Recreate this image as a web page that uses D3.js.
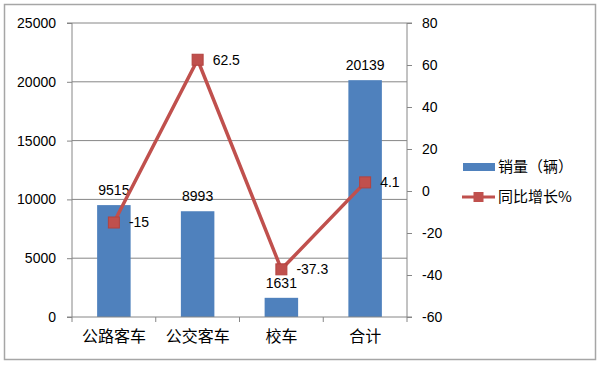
<!DOCTYPE html>
<html>
<head>
<meta charset="utf-8">
<script src="https://cdn.jsdelivr.net/npm/d3@7"></script>
<style>
  body { margin: 0; background: #fff; }
  text { font-family: "Liberation Sans", "Noto Sans CJK SC", sans-serif; fill: #000; }
  .cjk { font-family: "Noto Sans CJK SC", sans-serif; }
</style>
</head>
<body>
<div id="chart"></div>
<script>
// data
const categories = ["公路客车", "公交客车", "校车", "合计"];
const sales = [9515, 8993, 1631, 20139];
const growth = [-15, 62.5, -37.3, 4.1];
const leftTicks = [0, 5000, 10000, 15000, 20000, 25000];
const rightTicks = [-60, -40, -20, 0, 20, 40, 60, 80];
const seriesNames = ["销量（辆）", "同比增长%"];

const color = { bar: "#4f81bd", line: "#c0504d", axis: "#868686", grid: "#868686", frame: "#a6a6a6" };

const W = 600, H = 366;
const plot = { left: 72, right: 407, top: 23, bottom: 317 };

const svg = d3.select("#chart").append("svg")
  .attr("width", W).attr("height", H);

// outer frame
svg.append("rect")
  .attr("x", 4.5).attr("y", 4.5)
  .attr("width", 591).attr("height", 355)
  .attr("fill", "#fff")
  .attr("stroke", color.frame)
  .attr("stroke-width", 1.5);

// scales
const x = d3.scaleBand()
  .domain(categories)
  .range([plot.left, plot.right])
  .paddingInner(0.6)
  .paddingOuter(0.3);
const xCat = d3.scaleBand().domain(categories).range([plot.left, plot.right]);
const yL = d3.scaleLinear().domain([0, 25000]).range([plot.bottom, plot.top]);
const yR = d3.scaleLinear().domain([-60, 80]).range([plot.bottom, plot.top]);

// gridlines
svg.append("g")
  .selectAll("line")
  .data(leftTicks.filter(d => d > 0))
  .join("line")
  .attr("x1", plot.left).attr("x2", plot.right)
  .attr("y1", d => yL(d)).attr("y2", d => yL(d))
  .attr("stroke", color.grid)
  .attr("stroke-width", 1);

// bars
svg.append("g")
  .selectAll("rect")
  .data(sales)
  .join("rect")
  .attr("x", (d, i) => x(categories[i]))
  .attr("y", d => yL(d))
  .attr("width", x.bandwidth())
  .attr("height", d => yL(0) - yL(d))
  .attr("fill", color.bar);

// left axis
const leftAxis = svg.append("g")
  .attr("transform", `translate(${plot.left},0)`)
  .call(d3.axisLeft(yL).tickValues(leftTicks).tickSize(5).tickPadding(11).tickFormat(d => d));
// right axis
const rightAxis = svg.append("g")
  .attr("transform", `translate(${plot.right},0)`)
  .call(d3.axisRight(yR).tickValues(rightTicks).tickSize(5).tickPadding(10).tickFormat(d => d));
// bottom axis
const bottomAxis = svg.append("g")
  .attr("transform", `translate(0,${plot.bottom})`)
  .call(d3.axisBottom(xCat).tickSize(0).tickPadding(14));
bottomAxis.selectAll(".tick text").attr("class", "cjk").attr("font-size", 16);
// category boundary ticks
bottomAxis.append("g")
  .selectAll("line")
  .data(d3.range(categories.length + 1))
  .join("line")
  .attr("x1", i => plot.left + i * xCat.step())
  .attr("x2", i => plot.left + i * xCat.step())
  .attr("y1", 0).attr("y2", 5)
  .attr("stroke", color.axis);

[leftAxis, rightAxis, bottomAxis].forEach(a => {
  a.select(".domain").attr("stroke", color.axis).attr("stroke-width", 1);
  a.selectAll(".tick line").attr("stroke", color.axis);
});
leftAxis.selectAll("text").attr("font-size", 14);
rightAxis.selectAll("text").attr("font-size", 14);
bottomAxis.select(".domain").attr("d", `M${plot.left},0H${plot.right}`);
leftAxis.select(".domain").attr("d", `M-5,${plot.top}H0V${plot.bottom}H-5`);
rightAxis.select(".domain").attr("d", `M5,${plot.top}H0V${plot.bottom}H5`);

// bar labels
svg.append("g")
  .selectAll("text")
  .data(sales)
  .join("text")
  .attr("x", (d, i) => xCat(categories[i]) + xCat.bandwidth() / 2)
  .attr("y", d => yL(d) - 10)
  .attr("text-anchor", "middle")
  .attr("font-size", 14)
  .text(d => d);

// line
const cx = (d, i) => xCat(categories[i]) + xCat.bandwidth() / 2;
const line = d3.line()
  .x((d, i) => cx(d, i))
  .y(d => yR(d));
svg.append("path")
  .datum(growth)
  .attr("d", line)
  .attr("fill", "none")
  .attr("stroke", color.line)
  .attr("stroke-width", 3.5);

const ms = 11;
svg.append("g")
  .selectAll("rect")
  .data(growth)
  .join("rect")
  .attr("x", (d, i) => cx(d, i) - ms / 2)
  .attr("y", d => yR(d) - ms / 2)
  .attr("width", ms).attr("height", ms)
  .attr("fill", color.line)
  .attr("stroke", "#b3423f")
  .attr("stroke-width", 1);

// line labels
svg.append("g")
  .selectAll("text")
  .data(growth)
  .join("text")
  .attr("x", (d, i) => cx(d, i) + 15)
  .attr("y", d => yR(d))
  .attr("dy", "0.35em")
  .attr("font-size", 14)
  .text(d => d);

// legend
const legend = svg.append("g").attr("transform", "translate(462,0)");
legend.append("rect")
  .attr("x", 1).attr("y", 163)
  .attr("width", 32).attr("height", 8)
  .attr("fill", color.bar);
legend.append("text")
  .attr("class", "cjk")
  .attr("x", 36).attr("y", 167)
  .attr("dy", "0.35em")
  .attr("font-size", 15)
  .text(seriesNames[0]);
legend.append("line")
  .attr("x1", 0).attr("x2", 33)
  .attr("y1", 197).attr("y2", 197)
  .attr("stroke", color.line)
  .attr("stroke-width", 3);
legend.append("rect")
  .attr("x", 16.5 - 5).attr("y", 192)
  .attr("width", 10).attr("height", 10)
  .attr("fill", color.line);
legend.append("text")
  .attr("class", "cjk")
  .attr("x", 36).attr("y", 197)
  .attr("dy", "0.35em")
  .attr("font-size", 15)
  .text(seriesNames[1]);
</script>
</body>
</html>
